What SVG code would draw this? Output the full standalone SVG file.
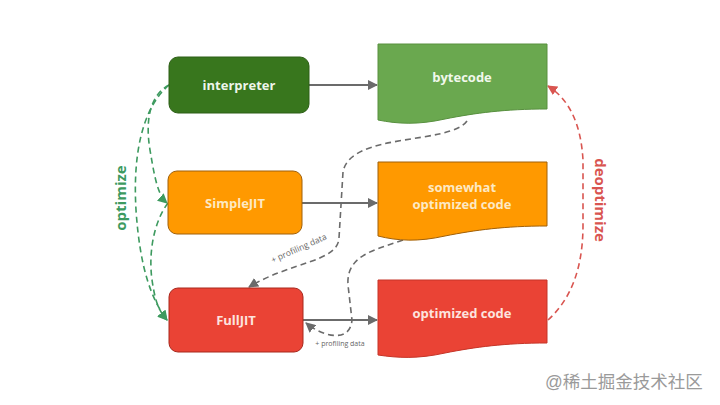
<svg xmlns="http://www.w3.org/2000/svg" width="720" height="405" viewBox="0 0 720 405">
<style>
.lbl{font-family:"Open Sans","Liberation Sans",sans-serif;font-weight:700;font-size:13px;text-anchor:middle;dominant-baseline:central}
.con{fill:none;stroke:#6b6b6b;stroke-width:1.8}
.dash{fill:none;stroke:#6b6b6b;stroke-width:1.6;stroke-dasharray:6 4}
.gdash{fill:none;stroke:#3d9a5f;stroke-width:1.6;stroke-dasharray:6 4}
.rdash{fill:none;stroke:#d95550;stroke-width:1.6;stroke-dasharray:6 4}
.small{font-family:"Open Sans","Liberation Sans",sans-serif;font-size:7px;fill:#666}
.small2{font-family:"Open Sans","Liberation Sans",sans-serif;font-size:8.5px;fill:#666}
</style>
<defs>
<marker id="agm" viewBox="0 0 10 10" refX="9" refY="5" markerWidth="10" markerHeight="10" orient="auto" markerUnits="userSpaceOnUse"><path d="M0,0L10,5L0,10Z" fill="#6b6b6b"/></marker>
<marker id="agr" viewBox="0 0 10 10" refX="9" refY="5" markerWidth="10" markerHeight="10" orient="auto" markerUnits="userSpaceOnUse"><path d="M0,0L10,5L0,10Z" fill="#3d9a5f"/></marker>
<marker id="ard" viewBox="0 0 10 10" refX="9" refY="5" markerWidth="10" markerHeight="10" orient="auto" markerUnits="userSpaceOnUse"><path d="M0,0L10,5L0,10Z" fill="#d95550"/></marker>
</defs>
<rect width="720" height="405" fill="#ffffff"/>

<g id="connectors">
<line class="con" x1="309" y1="85" x2="377" y2="85" marker-end="url(#agm)"/>
<line class="con" x1="302" y1="203" x2="377" y2="203" marker-end="url(#agm)"/>
<line class="con" x1="303" y1="320" x2="377" y2="320" marker-end="url(#agm)"/>
<path class="dash" d="M467,121 C450,145 350,132 343,172 L339,238 C338,262 290,262 249,287" marker-end="url(#agm)"/>
<path class="dash" d="M403,240 C375,250 346,255 348,285 L352,320 C350,345 320,335 306,323" marker-end="url(#agm)"/>
<path class="gdash" d="M169,85 C150,95 145,120 150,150 C155,180 158,195 167,203" marker-end="url(#agr)"/>
<path class="gdash" d="M169,85 C140,110 133,160 136,210 C140,270 152,300 167,320" marker-end="url(#agr)"/>
<path class="gdash" d="M168,203 C155,220 148,250 152,280 C155,300 158,310 167,320" marker-end="url(#agr)"/>
<path class="rdash" d="M548,320 C570,300 583,270 583,225 L583,160 C581,125 570,100 548,86" marker-end="url(#ard)"/>
<text class="small2" transform="translate(300,251) rotate(-24)" text-anchor="middle">+ profiling data</text>
<text class="small" x="340" y="346" text-anchor="middle">+ profiling data</text>
<text transform="translate(120,198) rotate(-90)" font-family="'Open Sans','Liberation Sans',sans-serif" font-weight="700" font-size="15" fill="#3d9a5f" text-anchor="middle" dominant-baseline="central">optimize</text>
<text transform="translate(601,200) rotate(90)" font-family="'Open Sans','Liberation Sans',sans-serif" font-weight="700" font-size="15" fill="#d95550" text-anchor="middle" dominant-baseline="central">deoptimize</text>
</g>

<g id="interpreter">
<rect x="169" y="57" width="140" height="56" rx="9" fill="#38761d" stroke="#2d5f17" stroke-width="1"/>
<text class="lbl" x="239" y="85" fill="#eef5ea">interpreter</text>
</g>
<g id="simplejit">
<rect x="168" y="171" width="134" height="63" rx="9" fill="#ff9900" stroke="#a0600a" stroke-width="1"/>
<text class="lbl" x="235" y="203" fill="#fde9c4">SimpleJIT</text>
</g>
<g id="fulljit">
<rect x="169" y="288" width="134" height="64" rx="9" fill="#ea4335" stroke="#a8281d" stroke-width="1"/>
<text class="lbl" x="236" y="320" fill="#fde3df">FullJIT</text>
</g>
<g id="bytecode">
<path d="M378,44 H547 V109 C505,109 475,113 445,119 C418,125 398,124 378,120 Z" fill="#6aa84f" stroke="#58903f" stroke-width="1"/>
<text class="lbl" x="462" y="77" fill="#f1f8ec">bytecode</text>
</g>
<g id="somewhat">
<path d="M378,162 H547 V226 C505,226 475,230 445,236 C418,242 398,241 378,236 Z" fill="#ff9900" stroke="#a0600a" stroke-width="1"/>
<text class="lbl" x="462" y="187" fill="#fde9c4">somewhat</text>
<text class="lbl" x="462" y="204" fill="#fde9c4">optimized code</text>
</g>
<g id="optimized">
<path d="M378,280 H547 V343 C505,343 475,347 445,353 C418,359 398,358 378,355 Z" fill="#ea4335" stroke="#c53528" stroke-width="1"/>
<text class="lbl" x="462" y="313" fill="#fde3df">optimized code</text>
</g>
<text x="545" y="382" font-family="'Liberation Sans','Noto Sans CJK SC',sans-serif" font-size="17.5" fill="#9a9a9a" dominant-baseline="central">@稀土掘金技术社区</text>
</svg>
